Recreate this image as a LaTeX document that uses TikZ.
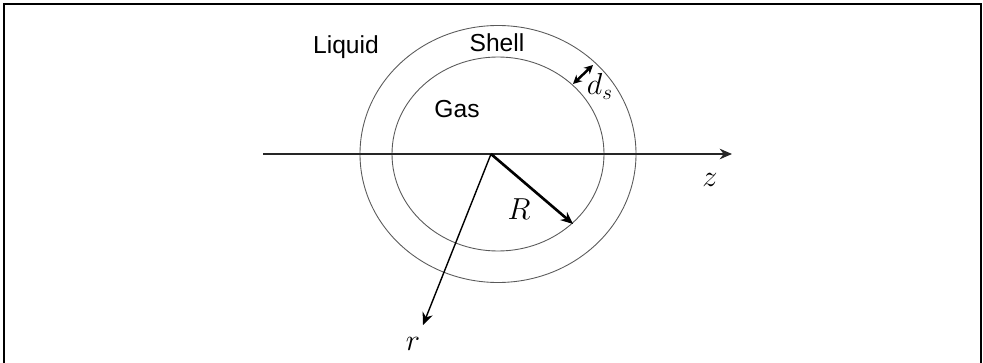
\documentclass[tikz,border=0pt]{standalone}
\usepackage{fontspec}
\setmainfont{Liberation Sans}
\usetikzlibrary{arrows.meta,positioning}
\tikzset{
  lbl/.style={inner sep=0pt, anchor=base, font=\fontsize{14}{16}\selectfont},
  mlbl/.style={lbl, font=\fontsize{17}{19}\selectfont},
  shellline/.style={draw=black!65, line width=0.5pt},
}

\begin{document}
\begin{tikzpicture}
  \useasboundingbox (0,0) rectangle (19.66,7.24);
  %% Frame
  \draw[line width=1.2pt] (0.08,-0.5) -- (0.08,7.16) -- (19.62,7.16) -- (19.62,-0.5);

  %% Bubble (gas core and shell)
  \coordinate (c) at (9.96,4.16);
  \draw[shellline] (c) ellipse [x radius=2.76cm, y radius=2.57cm];
  \draw[shellline] (c) ellipse [x radius=2.12cm, y radius=1.94cm];

  %% Axes
  \coordinate (O)    at (9.82,4.16);
  \coordinate (zbeg) at (5.26,4.16);
  \coordinate (zend) at (14.64,4.16);
  \coordinate (rend) at (8.46,0.74);
  \coordinate (Rend) at (11.46,2.76);
  \draw[-{Stealth[length=7pt,width=6pt]}, line width=1.1pt, black!85] (zbeg) -- (zend);
  \draw[-{Stealth[length=7pt,width=6pt]}, line width=0.8pt] (O) -- (rend);
  \draw[-{Stealth[length=7pt,width=6pt]}, line width=1.5pt] (O) -- (Rend);

  %% Shell thickness
  \coordinate (ds1) at (11.46,5.56);
  \coordinate (ds2) at (11.86,5.94);
  \draw[{Stealth[length=5pt,width=5pt]}-{Stealth[length=5pt,width=5pt]}, line width=1.4pt] (ds1) -- (ds2);

  %% Labels
  \node[lbl]  (liquid) at (6.92,6.16) {Liquid};
  \node[lbl]  (shell)  at (9.94,6.20) {Shell};
  \node[lbl]  (gas)    at (9.14,4.90) {Gas};
  \node[mlbl] (dslbl)  at (12.00,5.34) {$d_s$};
  \node[mlbl] (Rlbl)   at (10.38,2.86) {$R$};
  \node[mlbl] (zlbl)   at (14.20,3.52) {$z$};
  \node[mlbl] (rlbl)   at (8.26,0.24) {$r$};
\end{tikzpicture}
\end{document}
